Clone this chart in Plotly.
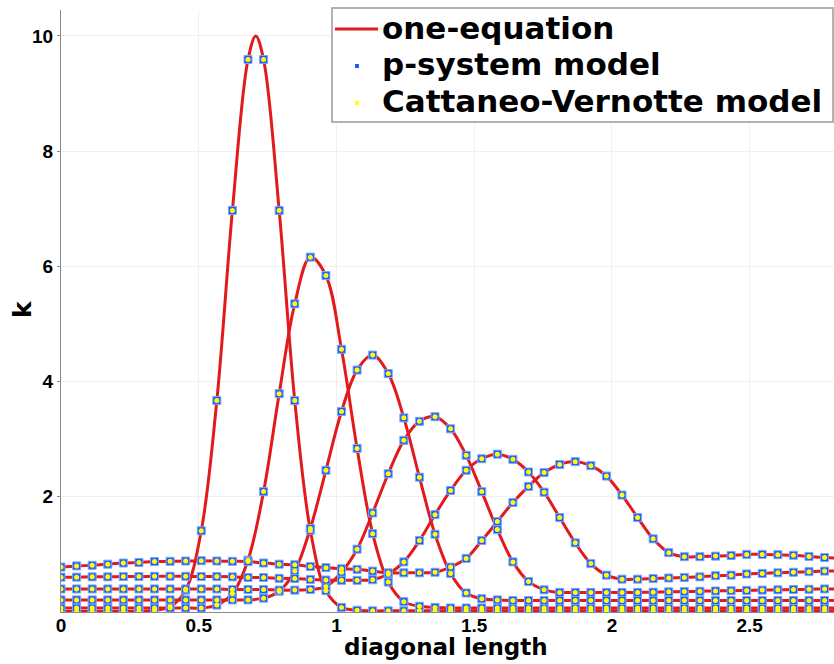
import numpy as np
import plotly.graph_objects as go

# Sampling grid along the diagonal of the domain (51 probe points)
DIAG = 2.8284
s = np.linspace(0.0, DIAG, 51)

# k sampled along the diagonal at six successive output times
k_t1 = [0.01, 0.01, 0.01, 0.01, 0.01, 0.01, 0.03, 0.09, 0.38, 1.41,
        3.67, 6.97, 9.59, 9.59, 6.97, 3.67, 1.42, 0.37, 0.08, 0.03,
        0.02, 0.02, 0.02, 0.02, 0.02, 0.02, 0.02, 0.02, 0.02, 0.02,
        0.02, 0.02, 0.02, 0.02, 0.02, 0.02, 0.02, 0.02, 0.02, 0.02,
        0.02, 0.02, 0.02, 0.02, 0.02, 0.02, 0.02, 0.02, 0.02, 0.02,
        0.02]
k_t2 = [0.07, 0.07, 0.07, 0.07, 0.07, 0.07, 0.07, 0.07, 0.07, 0.07,
        0.12, 0.32, 0.90, 2.09, 3.79, 5.35, 6.16, 5.84, 4.56, 2.84,
        1.36, 0.52, 0.18, 0.10, 0.08, 0.07, 0.07, 0.07, 0.07, 0.07,
        0.07, 0.07, 0.07, 0.07, 0.07, 0.07, 0.07, 0.07, 0.07, 0.07,
        0.07, 0.07, 0.07, 0.07, 0.07, 0.07, 0.07, 0.07, 0.07, 0.07,
        0.07]
k_t3 = [0.21, 0.21, 0.21, 0.21, 0.21, 0.21, 0.21, 0.21, 0.21, 0.21,
        0.21, 0.21, 0.21, 0.24, 0.36, 0.71, 1.45, 2.46, 3.48, 4.20,
        4.46, 4.14, 3.37, 2.34, 1.35, 0.67, 0.33, 0.23, 0.21, 0.20,
        0.20, 0.20, 0.20, 0.20, 0.20, 0.20, 0.20, 0.20, 0.20, 0.20,
        0.20, 0.20, 0.20, 0.20, 0.20, 0.20, 0.20, 0.20, 0.20, 0.20,
        0.20]
k_t4 = [0.40, 0.40, 0.40, 0.40, 0.40, 0.40, 0.40, 0.40, 0.40, 0.40,
        0.40, 0.39, 0.39, 0.39, 0.38, 0.38, 0.39, 0.44, 0.69, 1.09,
        1.72, 2.40, 2.98, 3.31, 3.39, 3.18, 2.72, 2.09, 1.43, 0.87,
        0.53, 0.385, 0.34, 0.34, 0.34, 0.34, 0.34, 0.34, 0.345, 0.35,
        0.355, 0.36, 0.365, 0.37, 0.375, 0.38, 0.385, 0.39, 0.395, 0.40,
        0.40]
k_t5 = [0.605, 0.605, 0.61, 0.61, 0.615, 0.615, 0.62, 0.62, 0.62, 0.615,
        0.615, 0.61, 0.60, 0.60, 0.585, 0.58, 0.565, 0.555, 0.55, 0.55,
        0.56, 0.66, 0.87, 1.24, 1.69, 2.11, 2.46, 2.66, 2.74, 2.65,
        2.43, 2.08, 1.64, 1.20, 0.84, 0.64, 0.57, 0.57, 0.58, 0.59,
        0.60, 0.61, 0.63, 0.64, 0.66, 0.67, 0.68, 0.69, 0.70, 0.71,
        0.715]
k_t6 = [0.78, 0.80, 0.81, 0.83, 0.85, 0.86, 0.875, 0.88, 0.885, 0.89,
        0.885, 0.88, 0.875, 0.85, 0.83, 0.82, 0.79, 0.77, 0.75, 0.74,
        0.71, 0.68, 0.68, 0.68, 0.69, 0.78, 0.93, 1.24, 1.57, 1.90,
        2.18, 2.42, 2.56, 2.61, 2.54, 2.36, 2.03, 1.64, 1.27, 1.03,
        0.96, 0.96, 0.97, 0.98, 1.00, 1.00, 0.995, 0.985, 0.965, 0.945,
        0.93]
snapshots = [k_t1, k_t2, k_t3, k_t4, k_t5, k_t6]

# The one-equation solution is resolved more finely: extra crest point of the first pulse
crest_s = [0.707]
crest_k = [10.0]

x_ticks = [0, 0.5, 1, 1.5, 2, 2.5]
x_ticktext = ["0", "0.5", "1", "1.5", "2", "2.5"]
y_ticks = [2, 4, 6, 8, 10]
y_ticktext = ["2", "4", "6", "8", "10"]

legend_labels = ["one-equation", "p-system model", "Cattaneo-Vernotte model"]

RED = "#e31a1c"
BLUE = "#1f5cff"
YELLOW = "#ffff00"

fig = go.Figure()

# one-equation curves (solid red)
for j, ks in enumerate(snapshots):
    xs, ys = list(s), list(ks)
    if j == 0:
        for cx, ck in zip(crest_s, crest_k):
            pos = int(np.searchsorted(xs, cx))
            xs.insert(pos, cx)
            ys.insert(pos, ck)
    fig.add_trace(go.Scatter(x=xs, y=ys, mode="lines",
                             line=dict(color=RED, width=3, shape="spline", smoothing=1.0),
                             showlegend=False, hoverinfo="skip"))

# p-system model (blue squares)
for ks in snapshots:
    fig.add_trace(go.Scatter(x=s, y=ks, mode="markers",
                             marker=dict(symbol="square", size=8, color=BLUE,
                                         line=dict(color="#79a6ff", width=1)),
                             showlegend=False, hoverinfo="skip"))

# Cattaneo-Vernotte model (yellow dots)
for ks in snapshots:
    fig.add_trace(go.Scatter(x=s, y=ks, mode="markers",
                             marker=dict(symbol="circle", size=5, color=YELLOW,
                                         line=dict(width=0)),
                             showlegend=False, hoverinfo="skip"))

# plot area geometry in pixels
L, R, T, B = 61, 0, 10, 52
W, H = 834, 664
PW, PH = W - L - R, H - T - B


def xp(px):
    return (px - L) / PW


def yp(py):
    return (H - B - py) / PH


shapes = [
    # legend frame
    dict(type="rect", xref="paper", yref="paper",
         x0=xp(332), x1=xp(833), y0=yp(122), y1=yp(8),
         fillcolor="white", line=dict(color="#9a9a9a", width=1.5), layer="above"),
    dict(type="line", xref="paper", yref="paper",
         x0=xp(335), x1=xp(378), y0=yp(29), y1=yp(29),
         line=dict(color=RED, width=3), layer="above"),
    dict(type="rect", xref="paper", yref="paper",
         x0=xp(355), x1=xp(359), y0=yp(68), y1=yp(64),
         fillcolor=BLUE, line=dict(width=0), layer="above"),
    dict(type="rect", xref="paper", yref="paper",
         x0=xp(355), x1=xp(359), y0=yp(105), y1=yp(101),
         fillcolor=YELLOW, line=dict(width=0), layer="above"),
]

legend_font = dict(family="DejaVu Sans", size=31, color="black", weight="bold")
annotations = []
for lab, cy in zip(legend_labels, [27.5, 64.5, 101.5]):
    annotations.append(dict(text=lab, xref="paper", yref="paper",
                            x=xp(380), y=yp(cy), xanchor="left", yanchor="middle",
                            showarrow=False, font=legend_font))

annotations.append(dict(text="diagonal length", xref="paper", yref="paper",
                        x=xp(446), y=yp(647), xanchor="center", yanchor="middle",
                        showarrow=False,
                        font=dict(family="DejaVu Sans", size=23, color="black", weight="bold")))
annotations.append(dict(text="k", xref="paper", yref="paper",
                        x=xp(22), y=yp(309), xanchor="center", yanchor="middle",
                        textangle=-90, showarrow=False,
                        font=dict(family="DejaVu Sans", size=25, color="black", weight="bold")))

tick_font = dict(family="Liberation Sans", size=19, color="black", weight="bold")

fig.update_layout(
    width=W, height=H,
    margin=dict(l=L, r=R, t=T, b=B, autoexpand=False),
    paper_bgcolor="white", plot_bgcolor="white",
    showlegend=False,
    shapes=shapes,
    annotations=annotations,
    xaxis=dict(range=[0, 2.806], tickvals=x_ticks, ticktext=x_ticktext,
               showgrid=True, gridcolor="#f0f0f0", gridwidth=1,
               zeroline=False, showline=True, linecolor="#8a8a8a", linewidth=1,
               ticks="", ticklabelstandoff=-4,
               tickfont=tick_font, automargin=False),
    yaxis=dict(range=[0, 10.45], tickvals=y_ticks, ticktext=y_ticktext,
               showgrid=True, gridcolor="#f0f0f0", gridwidth=1,
               zeroline=False, showline=True, linecolor="#8a8a8a", linewidth=1,
               ticks="outside", ticklen=3, tickcolor="#8a8a8a",
               tickfont=tick_font, automargin=False),
)

fig.write_html("out.html")
